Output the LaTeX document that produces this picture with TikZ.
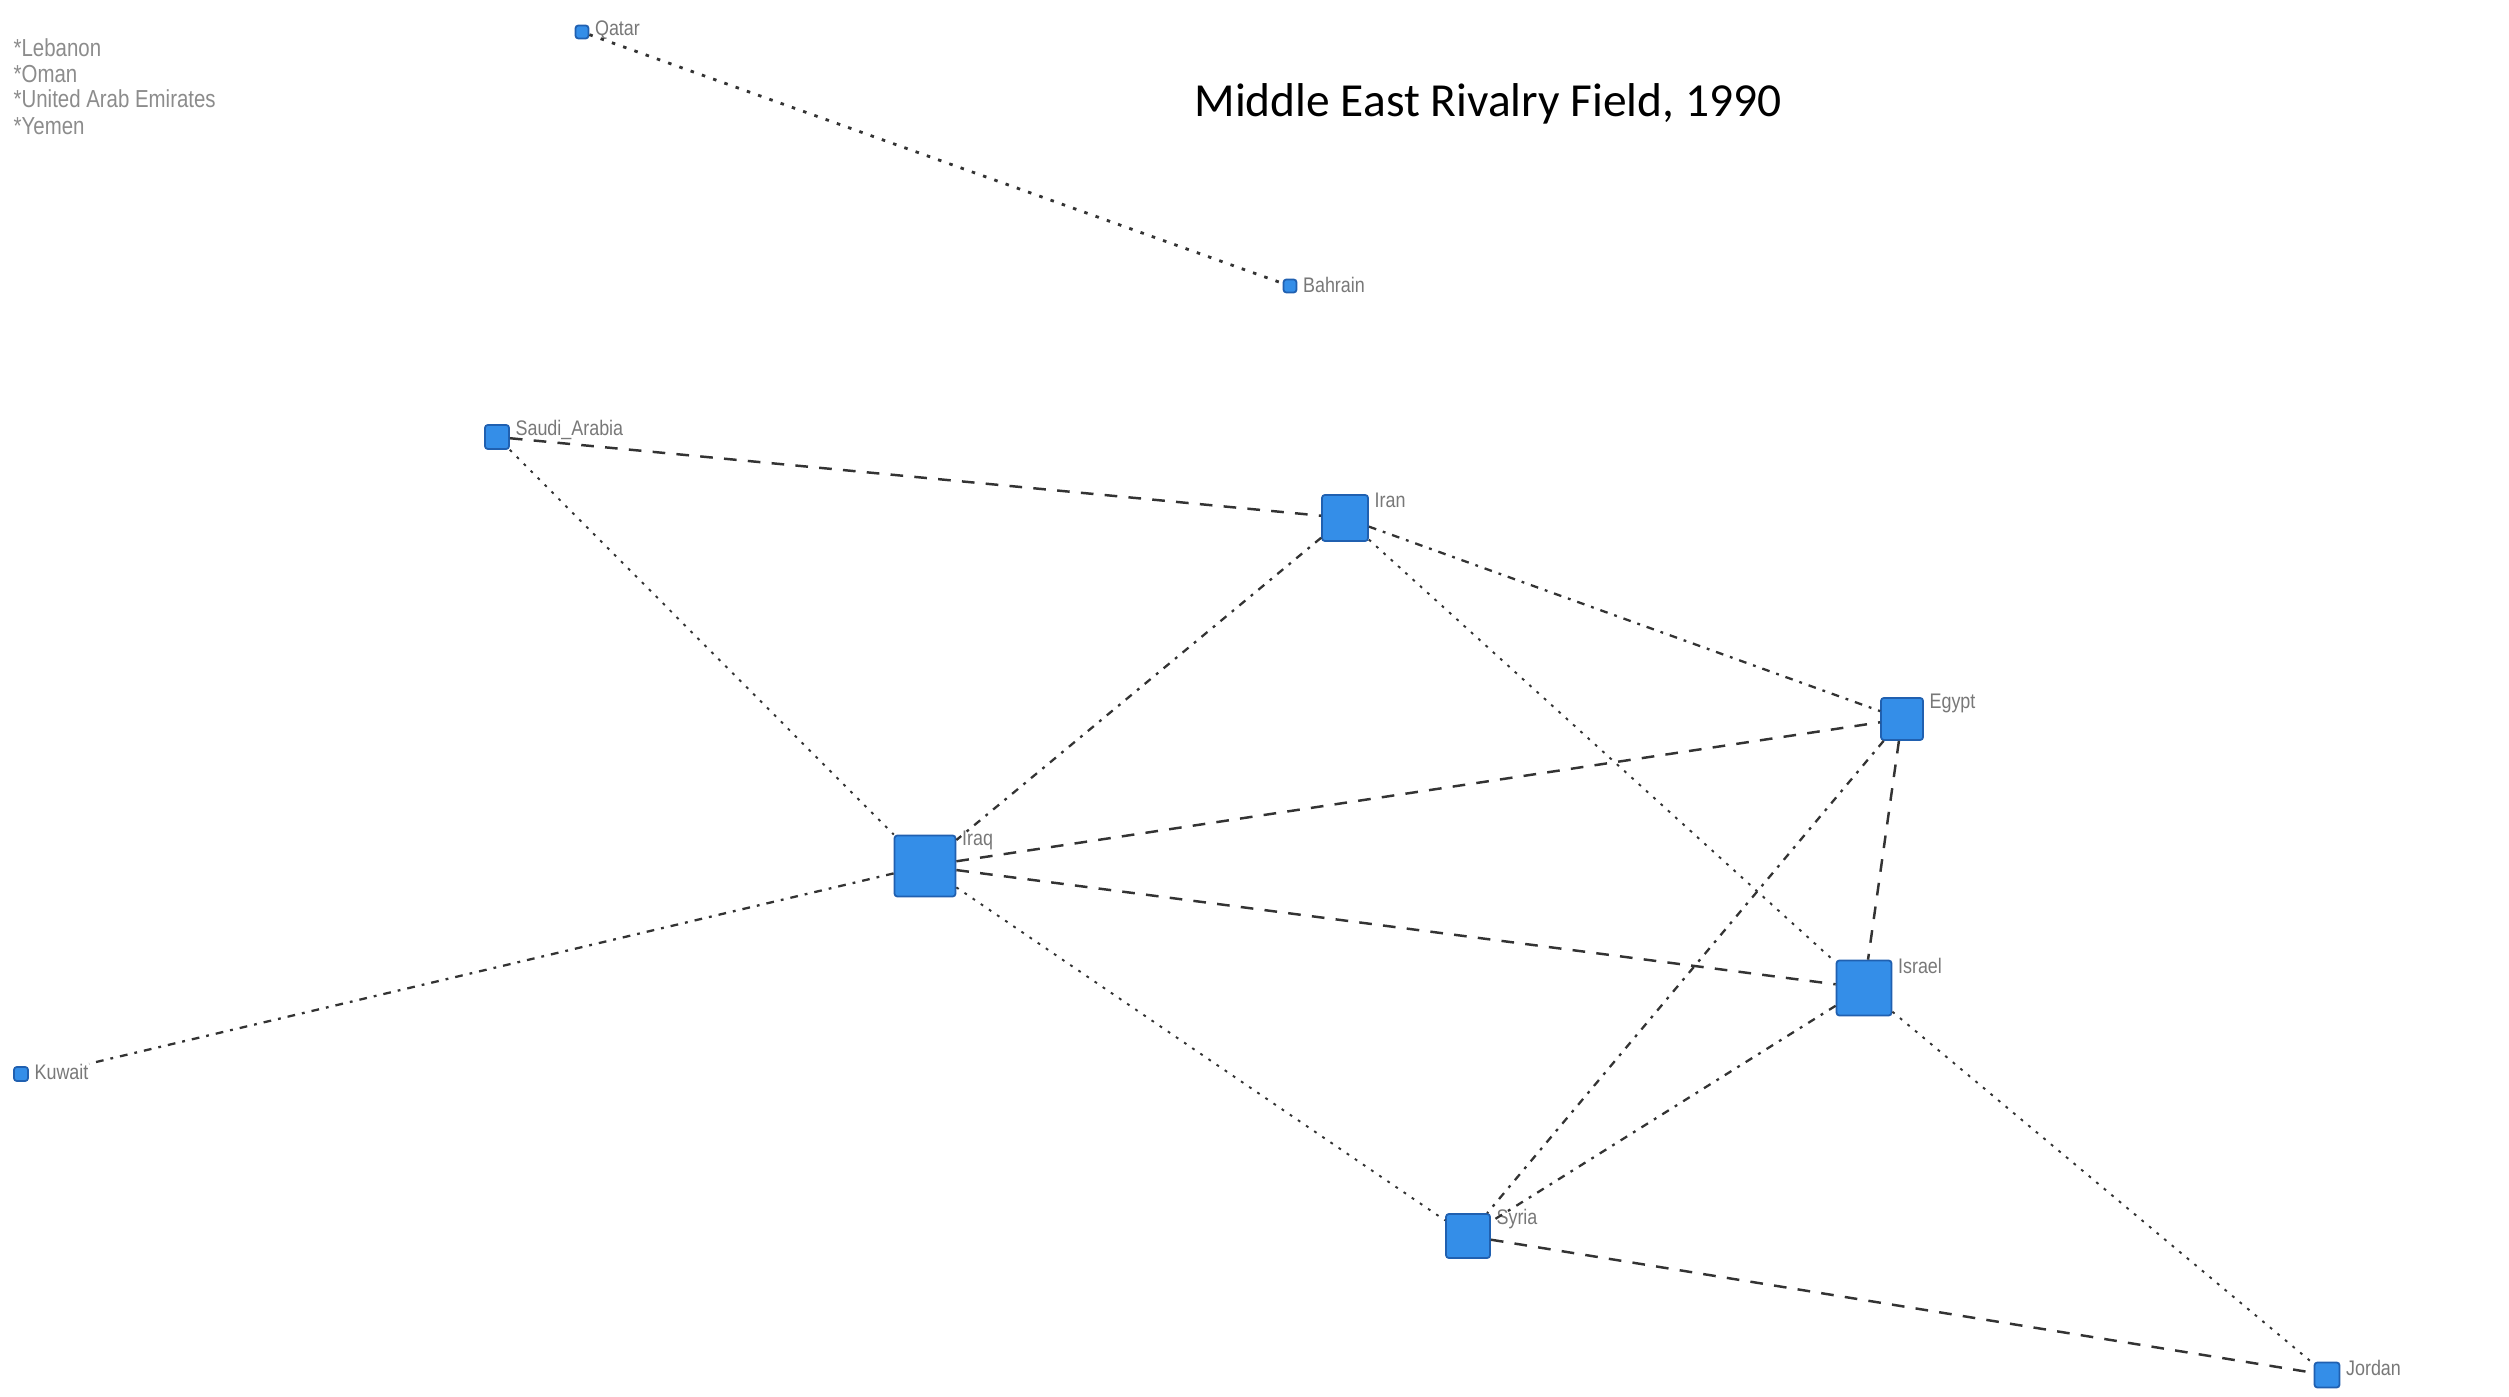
\documentclass[tikz,border=0pt]{standalone}
\usepackage{fontspec}
\setmainfont{Liberation Sans}
\newfontfamily\titlefont{Carlito}
\definecolor{nodeblue}{RGB}{52,142,232}
\definecolor{nodeedge}{RGB}{32,96,176}
\definecolor{labgray}{RGB}{120,120,120}
\tikzset{
  country/.style={rectangle, rounded corners=0.8pt, fill=nodeblue, draw=nodeedge, line width=0.5pt, inner sep=0pt, minimum size=#1},
  lab/.style={anchor=west, inner sep=0pt, text=labgray, font=\fontsize{6}{7}\selectfont},
  legend/.style={anchor=west, inner sep=0pt, text=labgray!85, font=\fontsize{7}{8}\selectfont},
  finedot/.style={line width=0.55pt, black!80, dash pattern=on 0.8pt off 2pt},
  dashdot/.style={line width=0.65pt, black!80, dash pattern=on 2.2pt off 2pt on 0.8pt off 2pt},
  dashline/.style={line width=0.7pt, black!80, dash pattern=on 3.6pt off 3.2pt},
  darkdot/.style={line width=0.8pt, black!80, dash pattern=on 1pt off 2.4pt}
}
\begin{document}
\begin{tikzpicture}[x=0.1mm, y=-0.1mm]
\useasboundingbox[fill=white] (0,0) rectangle (2509,1397);
% title
\node[inner sep=0pt] (title) at (1488,104) {\titlefont\fontsize{13.5}{16}\selectfont Middle East Rivalry Field, 1990};
% legend
\node[legend] (leg1) at (13,48) {\scalebox{0.83}[1]{*Lebanon}};
\node[legend] (leg2) at (13,74) {\scalebox{0.83}[1]{*Oman}};
\node[legend] (leg3) at (13,99) {\scalebox{0.83}[1]{*United Arab Emirates}};
\node[legend] (leg4) at (13,126) {\scalebox{0.83}[1]{*Yemen}};
% countries
\node[country=1.3mm] (qatar) at (582,32) {};
\node[country=1.3mm] (bahrain) at (1290,286) {};
\node[country=2.4mm] (saudi) at (497,437) {};
\node[country=4.6mm] (iran) at (1345,518) {};
\node[country=4.2mm] (egypt) at (1902,719) {};
\node[country=6.1mm] (iraq) at (925,866) {};
\node[country=5.5mm] (israel) at (1864,988) {};
\node[country=1.4mm] (kuwait) at (21,1074) {};
\node[country=4.4mm] (syria) at (1468,1236) {};
\node[country=2.5mm] (jordan) at (2327,1375) {};
% labels
\node[lab] (qatarL) at ([xshift=0.5mm,yshift=-0.6mm]qatar.north east) {\scalebox{0.85}[1]{Qatar}};
\node[lab] (bahrainL) at ([xshift=0.5mm,yshift=-0.6mm]bahrain.north east) {\scalebox{0.85}[1]{Bahrain}};
\node[lab] (saudiL) at ([xshift=0.5mm,yshift=-0.6mm]saudi.north east) {\scalebox{0.85}[1]{Saudi\_Arabia}};
\node[lab] (iranL) at ([xshift=0.5mm,yshift=-0.6mm]iran.north east) {\scalebox{0.85}[1]{Iran}};
\node[lab] (egyptL) at ([xshift=0.5mm,yshift=-0.6mm]egypt.north east) {\scalebox{0.85}[1]{Egypt}};
\node[lab] (iraqL) at ([xshift=0.5mm,yshift=-0.6mm]iraq.north east) {\scalebox{0.85}[1]{Iraq}};
\node[lab] (israelL) at ([xshift=0.5mm,yshift=-0.6mm]israel.north east) {\scalebox{0.85}[1]{Israel}};
\node[lab] (kuwaitL) at ([xshift=0.5mm,yshift=-0.6mm]kuwait.north east) {\scalebox{0.85}[1]{Kuwait}};
\node[lab] (syriaL) at ([xshift=0.5mm,yshift=-0.6mm]syria.north east) {\scalebox{0.85}[1]{Syria}};
\node[lab] (jordanL) at ([xshift=0.5mm,yshift=-0.6mm]jordan.north east) {\scalebox{0.85}[1]{Jordan}};
% edges
\draw[darkdot] (qatar) -- (bahrain);
\draw[dashline] (saudi) -- (iran);
\draw[finedot] (saudi) -- (iraq);
\draw[dashdot] (iran) -- (iraq);
\draw[dashdot] (iran) -- (egypt);
\draw[finedot] (iran) -- (israel);
\draw[dashline] (iraq) -- (egypt);
\draw[dashline] (iraq) -- (israel);
\draw[finedot] (iraq) -- (syria);
\draw[dashdot] (iraq) -- (kuwaitL.north east);
\draw[dashline] (egypt) -- (israel);
\draw[dashdot] (egypt) -- (syria);
\draw[dashdot] (israel) -- (syria);
\draw[finedot] (israel) -- (jordan);
\draw[dashline] (syria) -- (jordan);
\end{tikzpicture}
\end{document}
